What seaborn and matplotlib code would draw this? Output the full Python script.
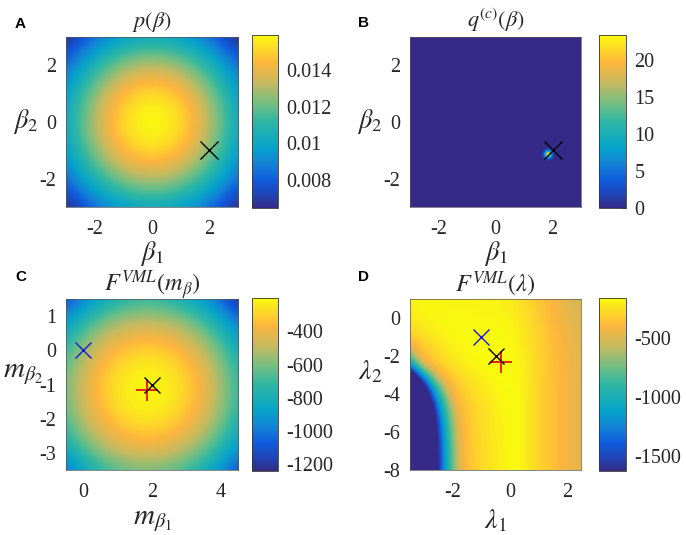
# plot.py - four panel heat maps with parula style colours
import numpy as np
import matplotlib
matplotlib.use("Agg")
import matplotlib.pyplot as plt
from matplotlib.colors import LinearSegmentedColormap
import seaborn as sns

sns.set_theme(style="white")
plt.rcParams['font.family'] = ['Liberation Serif', 'DejaVu Serif']
plt.rcParams['mathtext.fontset'] = 'stix'

# --- Data ---
# Rows run from the lowest y upwards, columns from the lowest x rightwards.
prior_x_range = [-3, 3]
prior_y_range = [-3, 3]
prior_grid = np.array([
    [6.46, 7.42, 8.30, 9.06, 9.64, 10.01, 10.14, 10.01, 9.64, 9.06, 8.30, 7.42, 6.46],
    [7.42, 8.51, 9.52, 10.40, 11.06, 11.49, 11.63, 11.49, 11.06, 10.40, 9.52, 8.51, 7.42],
    [8.30, 9.52, 10.66, 11.63, 12.38, 12.86, 13.02, 12.86, 12.38, 11.63, 10.66, 9.52, 8.30],
    [9.06, 10.40, 11.63, 12.70, 13.52, 14.07, 14.24, 14.07, 13.52, 12.70, 11.63, 10.40, 9.06],
    [9.64, 11.06, 12.38, 13.52, 14.42, 14.95, 15.13, 14.95, 14.42, 13.52, 12.38, 11.06, 9.64],
    [10.01, 11.49, 12.86, 14.07, 14.95, 15.51, 15.70, 15.51, 14.95, 14.07, 12.86, 11.49, 10.01],
    [10.14, 11.63, 13.02, 14.24, 15.13, 15.70, 15.90, 15.70, 15.13, 14.24, 13.02, 11.63, 10.14],
    [10.01, 11.49, 12.86, 14.07, 14.95, 15.51, 15.70, 15.51, 14.95, 14.07, 12.86, 11.49, 10.01],
    [9.64, 11.06, 12.38, 13.52, 14.42, 14.95, 15.13, 14.95, 14.42, 13.52, 12.38, 11.06, 9.64],
    [9.06, 10.40, 11.63, 12.70, 13.52, 14.07, 14.24, 14.07, 13.52, 12.70, 11.63, 10.40, 9.06],
    [8.30, 9.52, 10.66, 11.63, 12.38, 12.86, 13.02, 12.86, 12.38, 11.63, 10.66, 9.52, 8.30],
    [7.42, 8.51, 9.52, 10.40, 11.06, 11.49, 11.63, 11.49, 11.06, 10.40, 9.52, 8.51, 7.42],
    [6.46, 7.42, 8.30, 9.06, 9.64, 10.01, 10.14, 10.01, 9.64, 9.06, 8.30, 7.42, 6.46],
]) * 1e-3

# posterior is flat zero apart from one small spot, on a 0.05 grid
post_x_range = [-3, 3]
post_y_range = [-3, 3]
post_spot_center = [1.85, -1.15]
post_spot = np.array([
    [0.06, 0.24, 0.6, 1.0, 1.2, 1.0, 0.6, 0.24, 0.06],
    [0.24, 0.85, 2.1, 3.7, 4.5, 3.7, 2.1, 0.85, 0.24],
    [0.6, 2.1, 5.4, 9.3, 11.2, 9.3, 5.4, 2.1, 0.6],
    [1.0, 3.7, 9.3, 16.2, 19.5, 16.2, 9.3, 3.7, 1.0],
    [1.2, 4.5, 11.2, 19.5, 23.4, 19.5, 11.2, 4.5, 1.2],
    [1.0, 3.7, 9.3, 16.2, 19.5, 16.2, 9.3, 3.7, 1.0],
    [0.6, 2.1, 5.4, 9.3, 11.2, 9.3, 5.4, 2.1, 0.6],
    [0.24, 0.85, 2.1, 3.7, 4.5, 3.7, 2.1, 0.85, 0.24],
    [0.06, 0.24, 0.6, 1.0, 1.2, 1.0, 0.6, 0.24, 0.06],
])

mean_x_range = [-0.5, 4.5]
mean_y_range = [-3.5, 1.5]
mean_grid = np.array([
    [-1016, -861, -743, -661, -617, -609, -639, -706, -809, -950, -1127],
    [-861, -706, -588, -506, -462, -454, -484, -551, -654, -795, -972],
    [-743, -588, -470, -388, -344, -336, -366, -433, -536, -677, -854],
    [-661, -506, -388, -306, -262, -254, -284, -351, -454, -595, -772],
    [-617, -462, -344, -262, -218, -210, -240, -307, -410, -551, -728],
    [-609, -454, -336, -254, -210, -202, -232, -299, -402, -543, -720],
    [-639, -484, -366, -284, -240, -232, -262, -329, -432, -573, -750],
    [-706, -551, -433, -351, -307, -299, -329, -396, -499, -640, -817],
    [-809, -654, -536, -454, -410, -402, -432, -499, -602, -743, -920],
    [-950, -795, -677, -595, -551, -543, -573, -640, -743, -884, -1061],
    [-1127, -972, -854, -772, -728, -720, -750, -817, -920, -1061, -1238],
])

lam_x_range = [-3.5, 2.5]
lam_y_range = [-8, 1]
lam_grid = np.array([
    [-2500, -2500, -2500, -2190, -1600, -1095, -770, -470, -365, -315, -278, -248, -223, -198, -175, -165, -200, -250, -290, -320, -350, -385, -420, -450, -480],
    [-2500, -2500, -2500, -2190, -1595, -1090, -765, -468, -364, -315, -278, -248, -223, -198, -175, -165, -200, -250, -290, -320, -350, -385, -420, -450, -480],
    [-2500, -2500, -2500, -2180, -1570, -1080, -755, -462, -363, -314, -277, -247, -222, -197, -174, -165, -200, -250, -290, -320, -350, -385, -420, -450, -480],
    [-2500, -2500, -2500, -2170, -1545, -1065, -740, -455, -362, -313, -275, -246, -221, -196, -173, -165, -200, -250, -290, -320, -350, -385, -420, -450, -480],
    [-2500, -2500, -2500, -2095, -1495, -1035, -710, -445, -358, -310, -272, -243, -218, -194, -172, -165, -200, -250, -290, -320, -350, -385, -420, -450, -480],
    [-2500, -2500, -2500, -2020, -1425, -1000, -665, -430, -352, -305, -268, -240, -215, -190, -170, -165, -200, -250, -290, -320, -350, -385, -420, -450, -480],
    [-2500, -2500, -2450, -1900, -1320, -935, -600, -415, -342, -298, -263, -235, -210, -186, -168, -165, -200, -250, -290, -320, -350, -385, -420, -450, -480],
    [-2500, -2500, -2310, -1710, -1170, -835, -505, -380, -325, -285, -253, -228, -203, -178, -166, -165, -200, -250, -290, -320, -350, -385, -420, -450, -480],
    [-2500, -2500, -2020, -1425, -1000, -665, -430, -350, -303, -268, -240, -215, -190, -170, -165, -165, -200, -250, -290, -320, -350, -385, -420, -450, -480],
    [-2500, -2190, -1600, -1095, -770, -470, -365, -315, -278, -248, -223, -198, -175, -165, -163, -168, -203, -251, -290, -321, -352, -386, -421, -451, -481],
    [-2120, -1520, -1050, -725, -450, -360, -310, -274, -245, -220, -195, -173, -165, -163, -163, -172, -207, -252, -290, -322, -354, -388, -422, -452, -482],
    [-1200, -860, -520, -390, -330, -288, -256, -230, -205, -180, -168, -163, -162, -162, -163, -176, -211, -253, -290, -323, -356, -390, -423, -453, -483],
    [-800, -485, -370, -320, -280, -250, -225, -200, -175, -165, -162, -161, -161, -162, -165, -180, -215, -255, -290, -325, -358, -392, -425, -455, -485],
    [-485, -370, -320, -280, -250, -225, -200, -178, -168, -163, -162, -162, -163, -164, -166, -185, -220, -258, -294, -328, -362, -396, -430, -460, -488],
    [-330, -295, -265, -238, -215, -192, -175, -167, -164, -163, -163, -163, -164, -166, -170, -190, -225, -262, -298, -332, -366, -400, -435, -465, -492],
    [-270, -245, -222, -200, -183, -172, -167, -165, -165, -165, -166, -167, -169, -172, -178, -200, -235, -270, -305, -340, -375, -410, -445, -475, -500],
    [-225, -205, -190, -178, -172, -170, -169, -169, -170, -171, -172, -174, -177, -182, -190, -215, -245, -280, -315, -350, -385, -420, -455, -485, -510],
    [-200, -190, -182, -178, -176, -175, -175, -176, -177, -178, -180, -183, -187, -192, -200, -225, -255, -290, -325, -360, -395, -430, -465, -495, -520],
    [-188, -184, -181, -180, -180, -180, -181, -182, -183, -185, -187, -190, -194, -200, -210, -235, -265, -300, -335, -370, -405, -440, -475, -505, -530],
])

# colour limits
prior_lims = [0.00647, 0.0159]
post_lims = [0, 23.4]
mean_lims = [-1240, -200]
lam_lims = [-1627, -160]

# tick values and labels
beta_ticks = [-2, 0, 2]
beta_labels = ['-2', '0', '2']
mean_xticks = [0, 2, 4]
mean_xlabels = ['0', '2', '4']
mean_yticks = [-3, -2, -1, 0, 1]
mean_ylabels = ['-3', '-2', '-1', '0', '1']
lam_xticks = [-2, 0, 2]
lam_xlabels = ['-2', '0', '2']
lam_yticks = [-8, -6, -4, -2, 0]
lam_ylabels = ['-8', '-6', '-4', '-2', '0']
prior_cticks = [0.008, 0.01, 0.012, 0.014]
prior_clabels = ['0.008', '0.01', '0.012', '0.014']
post_cticks = [0, 5, 10, 15, 20]
post_clabels = ['0', '5', '10', '15', '20']
mean_cticks = [-1200, -1000, -800, -600, -400]
mean_clabels = ['-1200', '-1000', '-800', '-600', '-400']
lam_cticks = [-1500, -1000, -500]
lam_clabels = ['-1500', '-1000', '-500']

# markers
true_point_beta = [2, -1]
start_point_mean = [0, 0]
true_point_mean = [2, -1]
best_point_mean = [1.85, -1.15]
start_point_lam = [-1, -1]
true_point_lam = [-0.5, -2]
best_point_lam = [-0.3, -2.3]

# colour stops taken from the reference colour bar
parula = LinearSegmentedColormap.from_list("parula_like", [
    (0.00, "#352A87"), (0.08, "#1F45B8"), (0.16, "#0F5CDD"), (0.25, "#1481D6"),
    (0.35, "#06A4CA"), (0.50, "#2EB7A4"), (0.60, "#70BE84"), (0.72, "#C4BA60"),
    (0.84, "#FDB53D"), (0.92, "#FDD828"), (1.00, "#F9FB0E")])

# posterior grid: zeros with the spot dropped in
post_step = 0.05
post_n = int(round((post_x_range[1] - post_x_range[0]) / post_step)) + 1
post_grid = np.zeros((post_n, post_n))
col_mid = int(round((post_spot_center[0] - post_x_range[0]) / post_step))
row_mid = int(round((post_spot_center[1] - post_y_range[0]) / post_step))
post_grid[row_mid - 4:row_mid + 5, col_mid - 4:col_mid + 5] = post_spot

W, H = 686, 535
fig = plt.figure(figsize=(W / 100, H / 100), dpi=100)
fig.patch.set_facecolor("white")


def px_axes(x0, y0, x1, y1):
    # pixel box, y measured from the top of the image
    return fig.add_axes([x0 / W, 1 - y1 / H, (x1 - x0) / W, (y1 - y0) / H])


def draw_panel(box, cbox, grid, xr, yr, lims, xt, xl, yt, yl, ct, cl):
    ax = px_axes(*box)
    cax = px_axes(*cbox)
    sns.heatmap(grid, ax=ax, cbar_ax=cax, cmap=parula, vmin=lims[0], vmax=lims[1],
                xticklabels=False, yticklabels=False, shading='gouraud')
    nrows, ncols = grid.shape
    # smooth the grid in value space, so the colours follow the colour bar between nodes
    ax.imshow(grid, origin='lower', cmap=parula, norm=ax.collections[0].norm, aspect='auto',
              extent=(-0.5, ncols - 0.5, -0.5, nrows - 0.5), interpolation='bicubic',
              interpolation_stage='data', zorder=1.5)
    ax.set_xlim(0, ncols - 1)
    ax.set_ylim(0, nrows - 1)
    to_x = lambda v: (np.asarray(v, dtype=float) - xr[0]) / (xr[1] - xr[0]) * (ncols - 1)
    to_y = lambda v: (np.asarray(v, dtype=float) - yr[0]) / (yr[1] - yr[0]) * (nrows - 1)
    ax.set_xticks(to_x(xt))
    ax.set_xticklabels(xl, fontsize=14.5, rotation=0)
    ax.set_yticks(to_y(yt))
    ax.set_yticklabels(yl, fontsize=14.5, rotation=0)
    ax.tick_params(direction='in', length=2.5, width=0.5, color='#333333')
    ax.tick_params(axis='x', pad=9.5)
    ax.tick_params(axis='y', pad=7)
    for sp in ax.spines.values():
        sp.set_visible(True)
        sp.set_linewidth(0.5)
        sp.set_color('#555555')
    cb = ax.collections[0].colorbar
    cb.set_ticks(ct)
    cb.set_ticklabels(cl, fontsize=14.5)
    cax.tick_params(direction='in', length=3, width=0.5, color='#333333', pad=6, right=True)
    cb.outline.set_visible(True)
    cb.outline.set_linewidth(0.6)
    cb.outline.set_edgecolor('#333333')

    def mark(point, symbol, colour, size=11.5, lw=1.0):
        ax.plot(to_x(point[0]), to_y(point[1]), symbol, color=colour, markersize=size,
                markeredgewidth=lw, clip_on=False, linestyle='none', zorder=3)
    return ax, mark


# --- Panel A ---
ax, mark = draw_panel((66, 37, 238, 207), (252, 35, 278, 208), prior_grid, prior_x_range, prior_y_range,
                      prior_lims, beta_ticks, beta_labels, beta_ticks, beta_labels, prior_cticks, prior_clabels)
mark(true_point_beta, 'x', 'black', size=13)
ax.set_title(r'$p(\beta)$', fontsize=16, pad=7)
ax.set_xlabel(r'$\beta_1$', fontsize=19, labelpad=0)
ax.set_ylabel(r'$\beta_2$', fontsize=19, rotation=0, va='center')
ax.yaxis.set_label_coords(-0.235, 0.5)

# --- Panel B ---
ax, mark = draw_panel((410, 37, 581, 207), (599, 35, 626, 208), post_grid, post_x_range, post_y_range,
                      post_lims, beta_ticks, beta_labels, beta_ticks, beta_labels, post_cticks, post_clabels)
mark(true_point_beta, 'x', 'black', size=13)
ax.set_title(r'$q^{(c)}(\beta)$', fontsize=16, pad=7)
ax.set_xlabel(r'$\beta_1$', fontsize=19, labelpad=0)
ax.set_ylabel(r'$\beta_2$', fontsize=19, rotation=0, va='center')
ax.yaxis.set_label_coords(-0.235, 0.5)

# --- Panel C ---
ax, mark = draw_panel((66, 299, 238, 470), (252, 298, 278, 471), mean_grid, mean_x_range, mean_y_range,
                      mean_lims, mean_xticks, mean_xlabels, mean_yticks, mean_ylabels, mean_cticks, mean_clabels)
mark(start_point_mean, 'x', '#1a1ad0')
mark(best_point_mean, '+', '#f01c1c', size=16, lw=1.4)
mark(true_point_mean, 'x', 'black')
ax.set_title(r'$F^{VML}(m_\beta)$', fontsize=17.5, pad=5)
ax.set_xlabel(r'$m_{\beta_1}$', fontsize=21, labelpad=4)
ax.set_ylabel(r'$m_{\beta_2}$', fontsize=21, rotation=0, va='center')
ax.yaxis.set_label_coords(-0.25, 0.56)

# --- Panel D ---
ax, mark = draw_panel((410, 299, 581, 470), (599, 298, 626, 471), lam_grid, lam_x_range, lam_y_range,
                      lam_lims, lam_xticks, lam_xlabels, lam_yticks, lam_ylabels, lam_cticks, lam_clabels)
mark(start_point_lam, 'x', '#1a1ad0')
mark(best_point_lam, '+', '#f01c1c', size=16, lw=1.4)
mark(true_point_lam, 'x', 'black')
ax.set_title(r'$F^{VML}(\lambda)$', fontsize=17.5, pad=5)
ax.set_xlabel(r'$\lambda_1$', fontsize=20, labelpad=4)
ax.set_ylabel(r'$\lambda_2$', fontsize=20, rotation=0, va='center')
ax.yaxis.set_label_coords(-0.235, 0.57)

# panel letters
panel_letters = ['A', 'B', 'C', 'D']
letter_px = [(15, 24), (358, 23), (15, 277), (358, 277)]
for letter, (lx, ly) in zip(panel_letters, letter_px):
    fig.text(lx / W, 1 - ly / H, letter, fontsize=11, fontweight='bold', family='Liberation Sans',
             ha='left', va='center', color='black')

fig.savefig("out.png", dpi=100)
